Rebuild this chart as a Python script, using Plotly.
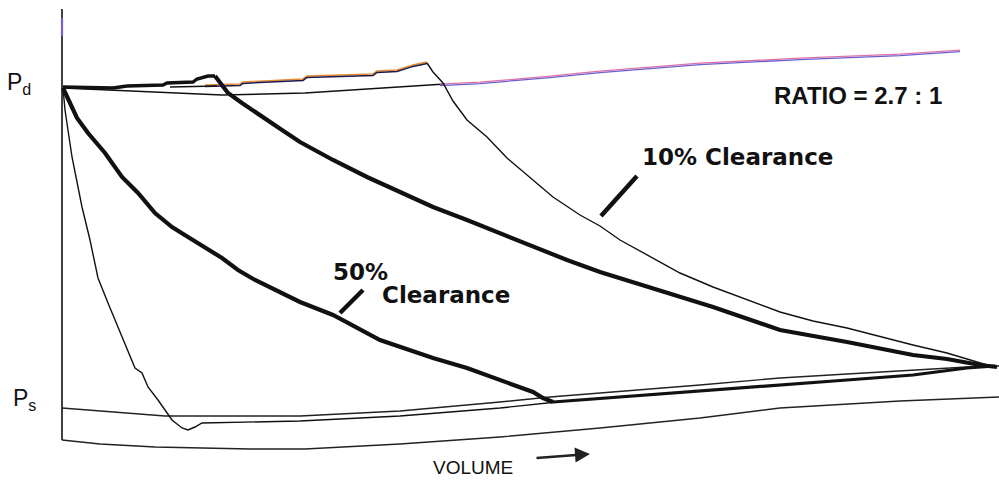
import plotly.graph_objects as go

# Values (x = volume position, y = pressure row; screen scale)
axis_x = [62, 62]
axis_y = [9, 440]

base_x = [62, 100, 155, 250, 305, 400, 500, 600, 700, 780, 900, 999]
base_y = [440, 444, 447, 449, 449, 444, 437, 428, 418, 408, 401, 397]

ps_x = [62, 165, 300, 400, 500, 550, 700, 780, 847, 910, 967, 999]
ps_y = [408, 416, 416, 411, 402, 397, 385, 378, 374, 370, 367, 366]

# thin steep re-expansion curve and its suction line
thinA_x = [63, 65, 72, 82, 90, 98, 108, 115, 122, 132, 135, 142, 148, 158, 167, 172, 182, 188, 195, 202, 300, 400, 500, 557]
thinA_y = [88, 110, 157, 207, 240, 278, 303, 320, 337, 360, 368, 373, 387, 400, 413, 420, 428, 430, 427, 423, 421, 416, 408, 402]

# 50% clearance re-expansion (thick)
c50_x = [63, 77, 88, 105, 122, 138, 155, 172, 188, 205, 222, 238, 255, 300, 333, 380, 400, 433, 467, 500, 533, 543, 553]
c50_y = [88, 118, 133, 153, 177, 193, 213, 227, 237, 247, 258, 270, 280, 302, 315, 340, 347, 358, 368, 380, 392, 398, 402]

# thick suction line
suct_x = [553, 650, 733, 780, 847, 913, 967, 995]
suct_y = [402, 395, 389, 385, 380, 375, 368, 366]

# thick compression curve
compT_x = [215, 220, 228, 242, 262, 282, 300, 333, 367, 400, 433, 467, 500, 533, 567, 600, 647, 713, 780, 847, 913, 947, 980, 997]
compT_y = [76, 82, 93, 103, 117, 130, 142, 160, 177, 192, 207, 220, 233, 247, 260, 272, 287, 307, 330, 342, 355, 359, 365, 367]

# thick stepped discharge line
dis_x = [63, 113, 127, 163, 167, 193, 197, 208, 215]
dis_y = [87, 88, 86, 85, 83, 82, 79, 76, 76]
loop_x = [170, 217]
loop_y = [87, 86]

# thin (10%) discharge, stepped
d10_x = [205, 240, 243, 303, 307, 373, 377, 397, 413, 427]
d10_y = [86, 85, 83, 80, 77, 75, 72, 71, 66, 63]

# thin (10%) compression curve
c10_x = [427, 433, 443, 447, 453, 467, 487, 507, 533, 553, 580, 600, 620, 647, 680, 713, 747, 780, 813, 847, 913, 947, 967, 987]
c10_y = [63, 72, 83, 90, 101, 120, 137, 158, 180, 197, 215, 226, 240, 255, 273, 287, 300, 312, 321, 328, 345, 353, 359, 365]

# lower Pd line and its continuation (colour fringed)
pdl_x = [63, 155, 222, 305, 380, 445]
pdl_y = [88, 92, 95, 93, 88, 84]
top_x = [440, 480, 550, 600, 650, 700, 800, 900, 960]
top_y = [85, 83, 77, 72, 68, 64, 59, 55, 51]

# pointer ticks
p10_x = [601, 637]
p10_y = [216, 176]
p50_x = [340, 363]
p50_y = [313, 290]

fig = go.Figure()

def add(x, y, color, width, dy=0):
    fig.add_trace(go.Scatter(x=x, y=[v + dy for v in y], mode="lines",
                             line=dict(color=color, width=width),
                             hoverinfo="skip", showlegend=False))

add(axis_x, axis_y, "#111", 1.6)
add([62, 62], [18, 36], "#7a5ad8", 2.2)
add(base_x, base_y, "#222", 1.4)
add(ps_x, ps_y, "#222", 1.4)
add(thinA_x, thinA_y, "#111", 1.4)
add(pdl_x, pdl_y, "#111", 1.5)
add(top_x, top_y, "#e070a8", 1.3, -0.8)
add(top_x, top_y, "#6a5fd0", 1.3, 0.6)
add(d10_x, d10_y, "#e88a30", 1.6, -1.0)
add(d10_x, d10_y, "#1a1a50", 1.5, 0.4)
add(c10_x, c10_y, "#111", 1.4)
add(loop_x, loop_y, "#111", 1.4)
add(dis_x, dis_y, "#111", 3.4)
add(compT_x, compT_y, "#111", 4.2)
add(c50_x, c50_y, "#111", 4.2)
add(suct_x, suct_y, "#111", 3.2)
add(p10_x, p10_y, "#111", 4.5)
add(p50_x, p50_y, "#111", 4.5)

ann = []
def text(x, y, s, size, family, xanchor="left", bold=False):
    ann.append(dict(x=x, y=y, xref="x", yref="y", text=("<b>%s</b>" % s) if bold else s,
                    showarrow=False, xanchor=xanchor, yanchor="middle",
                    font=dict(size=size, family=family, color="#111")))

text(5, 83, "P<sub>d</sub>", 23, "Liberation Sans")
text(11, 399, "P<sub>s</sub>", 23, "Liberation Sans")
text(772, 95, "RATIO = 2.7 : 1", 24, "Liberation Sans", bold=True)
text(640, 157, "10% Clearance", 23, "DejaVu Sans", bold=True)
text(331, 272, "50%", 23, "DejaVu Sans", bold=True)
text(380, 295, "Clearance", 23, "DejaVu Sans", bold=True)
text(431, 467, "VOLUME", 19, "Liberation Sans")
ann.append(dict(x=590, y=454, ax=535, ay=458, xref="x", yref="y", axref="x", ayref="y",
                text="", showarrow=True, arrowhead=2, arrowsize=1.2, arrowwidth=2.5,
                arrowcolor="#222"))

fig.update_layout(width=999, height=482, margin=dict(l=0, r=0, t=0, b=0),
                  paper_bgcolor="white", plot_bgcolor="white", annotations=ann,
                  xaxis=dict(range=[0, 999], visible=False, fixedrange=True),
                  yaxis=dict(range=[482, 0], visible=False, fixedrange=True))
fig.write_html("out.html", config={"displayModeBar": False},
               post_script="document.body.style.margin='0px';document.body.style.padding='0px';")
